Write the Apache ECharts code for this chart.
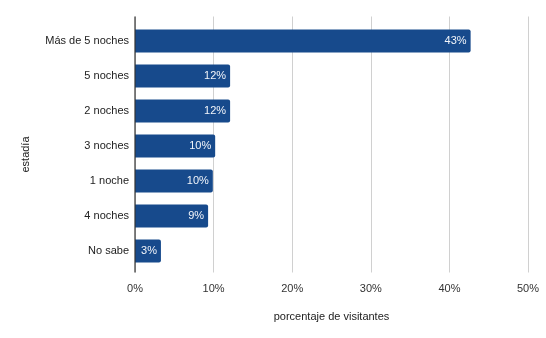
<!DOCTYPE html>
<html>
<head>
<meta charset="utf-8">
<script src="https://cdn.jsdelivr.net/npm/echarts@6/dist/echarts.min.js"></script>
<style>
  html, body { margin: 0; padding: 0; background: #fff; }
  #chart { width: 546px; height: 338px; }
</style>
</head>
<body>
<div id="chart"></div>
<script>
// Length of stay of visitors (share of respondents, %)
const categories = ['Más de 5 noches', '5 noches', '2 noches', '3 noches', '1 noche', '4 noches', 'No sabe'];
const shares = [42.7, 12.1, 12.1, 10.2, 9.9, 9.3, 3.3];
const xTicks = [0, 10, 20, 30, 40, 50];

const FONT = '"Liberation Sans", Arial, sans-serif';
const BAR = '#174a8c';

const chart = echarts.init(document.getElementById('chart'), null, { renderer: 'canvas' });

chart.setOption({
  animation: false,
  textStyle: { fontFamily: FONT },
  grid: [
    // frame grid: gridlines, zero line, tick labels
    { left: 135, right: 18, top: 16.5, bottom: 65.5 },
    // bar grid: category bands
    { left: 135, right: 18, top: 23.5, bottom: 69.5 }
  ],
  xAxis: [
    {
      gridIndex: 0,
      type: 'value',
      min: xTicks[0],
      max: xTicks[xTicks.length - 1],
      interval: 10,
      name: 'porcentaje de visitantes',
      nameLocation: 'middle',
      nameGap: 39,
      nameTextStyle: { fontSize: 11, color: '#222' },
      axisLine: { show: false },
      axisTick: { show: false },
      axisLabel: { formatter: v => v + '%', fontSize: 11, color: '#333', margin: 11 },
      splitLine: { show: true, lineStyle: { color: '#d0d0d0', width: 1 } }
    },
    {
      gridIndex: 1,
      type: 'value',
      min: xTicks[0],
      max: xTicks[xTicks.length - 1],
      show: false
    }
  ],
  yAxis: [
    {
      gridIndex: 0,
      type: 'value',
      min: 0,
      max: 1,
      axisLine: { show: false },
      axisTick: { show: false },
      axisLabel: { show: false },
      splitLine: { show: false }
    },
    {
      gridIndex: 1,
      type: 'category',
      inverse: true,
      data: categories,
      name: 'estadía',
      nameLocation: 'middle',
      nameRotate: 90,
      nameGap: 104,
      nameTextStyle: { fontSize: 11, color: '#222', padding: [0, 17, 0, 0] },
      axisLine: { show: false },
      axisTick: { show: false },
      axisLabel: { fontSize: 11, color: '#222', margin: 6 }
    }
  ],
  series: [
    {
      // zero baseline drawn as a vertical mark on the frame grid
      type: 'line',
      xAxisIndex: 0,
      yAxisIndex: 0,
      data: [[0, 0], [0, 1]],
      symbol: 'none',
      silent: true,
      lineStyle: { color: '#333', width: 1.2 }
    },
    {
      type: 'bar',
      xAxisIndex: 1,
      yAxisIndex: 1,
      data: shares,
      barWidth: 23,
      itemStyle: { color: BAR, borderRadius: [0, 2, 2, 0] },
      label: {
        show: true,
        position: 'insideRight',
        distance: 4,
        color: '#f2f5fa',
        fontSize: 11,
        formatter: p => Math.round(p.value) + '%'
      }
    }
  ]
});
</script>
</body>
</html>
